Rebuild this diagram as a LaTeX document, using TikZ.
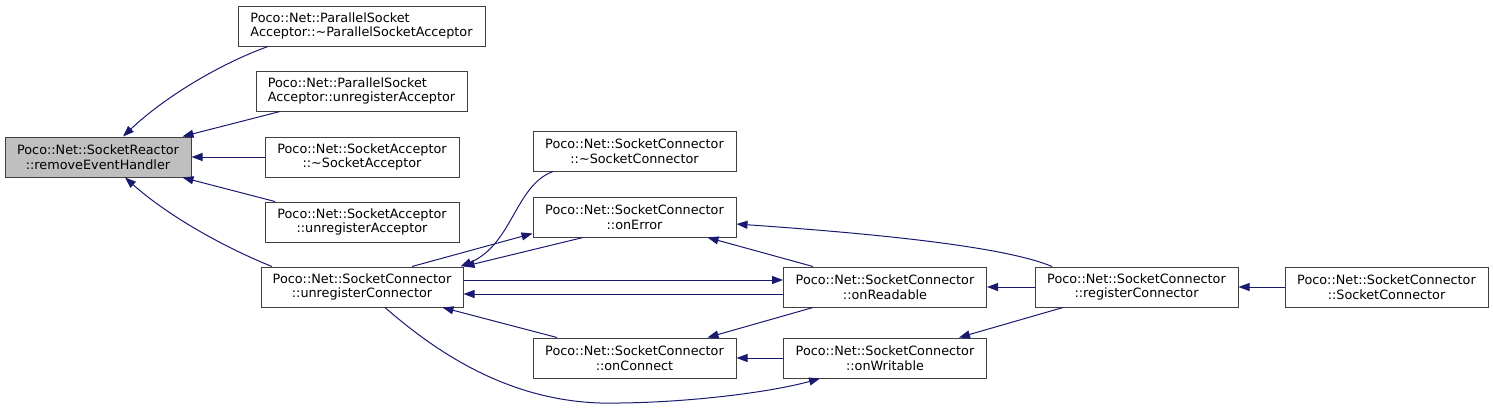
\documentclass[tikz,border=0pt]{standalone}
\usepackage{fontspec}
\setmainfont{DejaVu Sans}
\usetikzlibrary{arrows.meta}
\definecolor{edgeblue}{HTML}{191970}
\definecolor{nodegray}{HTML}{BFBFBF}
\definecolor{bordergray}{HTML}{404040}
\tikzset{
  box/.style={draw=bordergray, line width=1pt, fill=white, inner sep=0pt,
    minimum height=40pt, align=center,
    font=\fontsize{12.8}{14.7}\selectfont},
  edge/.style={draw=edgeblue, line width=1pt,
    -{Triangle[length=11pt,width=8pt]}}
}
\begin{document}
\begin{tikzpicture}[x=1pt,y=-1pt]
\useasboundingbox (0,0) rectangle (1493,410);
\node[box, fill=nodegray, minimum width=186pt] (SR) at (98,157) {Poco::Net::SocketReactor\\::removeEventHandler};
\node[box, minimum width=247pt, align=left] (PA1) at (361.5,26) {Poco::Net::ParallelSocket\\Acceptor::\textasciitilde ParallelSocketAcceptor};
\node[box, minimum width=211pt, align=left] (PA2) at (361.5,91) {Poco::Net::ParallelSocket\\Acceptor::unregisterAcceptor};
\node[box, minimum width=194pt] (SA1) at (362,157) {Poco::Net::SocketAcceptor\\::\textasciitilde SocketAcceptor};
\node[box, minimum width=194pt] (SA2) at (362,222) {Poco::Net::SocketAcceptor\\::unregisterAcceptor};
\node[box, minimum width=202pt] (UC) at (362,287) {Poco::Net::SocketConnector\\::unregisterConnector};
\node[box, minimum width=203pt] (DSC) at (634.5,151) {Poco::Net::SocketConnector\\::\textasciitilde SocketConnector};
\node[box, minimum width=203pt] (OE) at (634.5,217) {Poco::Net::SocketConnector\\::onError};
\node[box, minimum width=203pt] (OC) at (634.5,358) {Poco::Net::SocketConnector\\::onConnect};
\node[box, minimum width=203pt] (OR) at (885,287) {Poco::Net::SocketConnector\\::onReadable};
\node[box, minimum width=203pt] (OW) at (885,358) {Poco::Net::SocketConnector\\::onWritable};
\node[box, minimum width=203pt] (RC) at (1136.5,287) {Poco::Net::SocketConnector\\::registerConnector};
\node[box, minimum width=203pt] (SC) at (1386.5,287) {Poco::Net::SocketConnector\\::SocketConnector};
% edges
\draw[edge] ([xshift=-93.5pt]PA1.south) .. controls +(-50,18) and +(40,-38) .. ([xshift=25pt]SR.north);
\draw[edge] ([xshift=-81.5pt]PA2.south) -- ([xshift=-9pt]SR.north east);
\draw[edge] (SA1.west) -- (SR.east);
\draw[edge] ([xshift=-87pt]SA2.north) -- ([xshift=-9pt]SR.south east);
\draw[edge] ([xshift=-90pt]UC.north) .. controls +(-45,-18) and +(45,40) .. ([xshift=27pt]SR.south);
\draw[edge] ([xshift=-81.5pt]DSC.south) .. controls +(-38,14) and +(52,-22) .. ([xshift=-3pt]UC.north east);
\draw[edge] ([xshift=-51.5pt]OE.south) -- (UC.north east);
\draw[edge] ([xshift=50pt]UC.north) -- ([yshift=4pt]OE.south west);
\draw[edge] ([yshift=7pt]UC.east) -- ([yshift=7pt]OR.west);
\draw[edge] ([yshift=-7pt]OR.west) -- ([yshift=-7pt]UC.east);
\draw[edge] ([xshift=-77.5pt]OC.north) -- ([xshift=-21pt]UC.south east);
\draw[edge] ([xshift=23pt]UC.south) .. controls +(55,48) and +(-90,-3) .. (600,403) .. controls +(80,1) and +(-50,14) .. ([xshift=-65pt]OW.south);
\draw[edge] ([xshift=-72pt]OR.north) -- ([xshift=-29pt]OE.south east);
\draw[edge] ([xshift=-84.5pt]RC.north) .. controls +(-52,-22) and +(114,8) .. ([yshift=-7pt]OE.east);
\draw[edge] (RC.west) -- (OR.east);
\draw[edge] (SC.west) -- (RC.east);
\draw[edge] ([xshift=-72pt]OR.south) -- ([xshift=-29pt]OC.north east);
\draw[edge] ([xshift=-73.5pt]RC.south) -- ([xshift=-28pt]OW.north east);
\draw[edge] (OW.west) -- (OC.east);
\end{tikzpicture}
\end{document}
